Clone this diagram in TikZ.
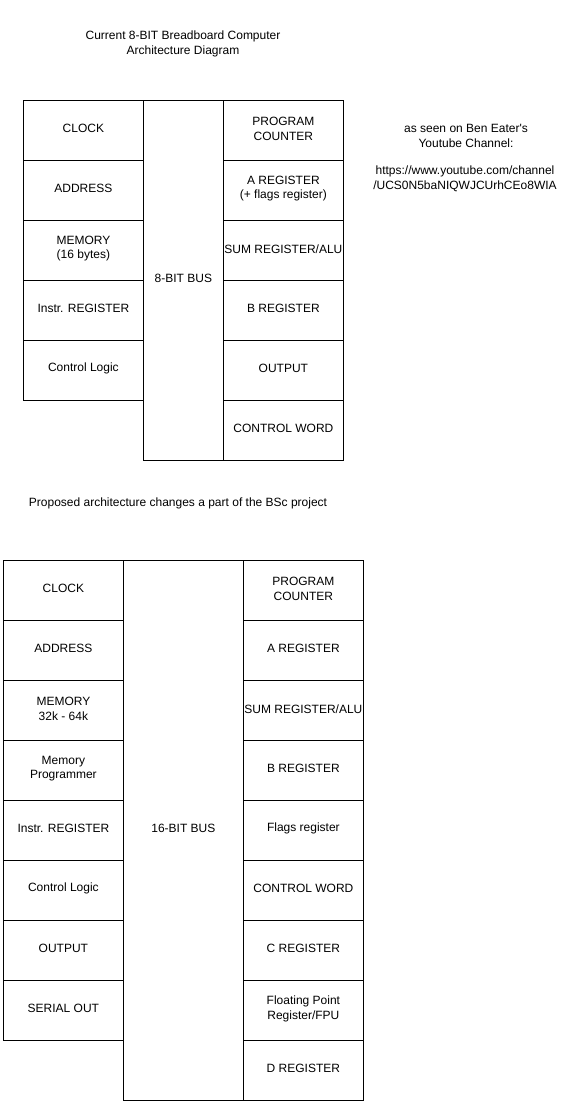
\documentclass[tikz,border=0pt]{standalone}
\usepackage{fontspec}
\setmainfont{Liberation Sans}[Ligatures=TeXOff]
\begin{document}
\begin{tikzpicture}[x=1pt,y=-1pt,
  lbl/.style={align=center,font=\fontsize{12}{14.5}\selectfont,inner sep=0pt,yshift=1.6pt},
  cell/.style={draw=black,line width=0.8pt,fill=white,minimum width=120pt,minimum height=60pt,inner sep=0pt,anchor=north west},
  bus/.style={cell,minimum width=80pt},
  txt/.style={align=center,font=\fontsize{12}{15}\selectfont,inner sep=0pt}]
\useasboundingbox (0,0) rectangle (561,1101);
\fill[white] (0,0) rectangle (561,1101);
% titles
\node[txt] (title) at (183,44) {Current 8-BIT Breadboard Computer\\Architecture Diagram};
\node[txt] (seen) at (466,135.5) {as seen on Ben Eater's\\Youtube Channel:};
\node[txt] (url) at (465,178.5) {https://www.youtube.com/channel\\/UCS0N5baNIQWJCUrhCEo8WIA};
\node[txt] (prop) at (178,503) {Proposed architecture changes a part of the BSc project};
% top diagram
\node[bus,minimum height=360pt,label={[lbl]center:8-BIT BUS}] (bus8) at (143,100) {};
\node[cell,label={[lbl]center:CLOCK}] (t1) at (23,100) {};
\node[cell,label={[lbl]center:ADDRESS}] (t2) at (23,160) {};
\node[cell,label={[lbl]center:MEMORY\\(16 bytes)}] (t3) at (23,220) {};
\node[cell,label={[lbl]center:Instr. REGISTER}] (t4) at (23,280) {};
\node[cell,label={[lbl]center:Control Logic}] (t5) at (23,340) {};
\node[cell,label={[lbl]center:PROGRAM\\COUNTER}] (r1) at (223,100) {};
\node[cell,label={[lbl]center:A REGISTER\\(+ flags register)}] (r2) at (223,160) {};
\node[cell,label={[lbl]center:SUM REGISTER/ALU}] (r3) at (223,220) {};
\node[cell,label={[lbl]center:B REGISTER}] (r4) at (223,280) {};
\node[cell,label={[lbl]center:OUTPUT}] (r5) at (223,340) {};
\node[cell,label={[lbl]center:CONTROL WORD}] (r6) at (223,400) {};
% bottom diagram
\node[cell,minimum height=540pt,label={[lbl]center:16-BIT BUS}] (bus16) at (123,560) {};
\node[cell,label={[lbl]center:CLOCK}] (b1) at (3,560) {};
\node[cell,label={[lbl]center:ADDRESS}] (b2) at (3,620) {};
\node[cell,label={[lbl]center:MEMORY\\32k - 64k}] (b3) at (3,680) {};
\node[cell,label={[lbl]center:Memory\\Programmer}] (b4) at (3,740) {};
\node[cell,label={[lbl]center:Instr. REGISTER}] (b5) at (3,800) {};
\node[cell,label={[lbl]center:Control Logic}] (b6) at (3,860) {};
\node[cell,label={[lbl]center:OUTPUT}] (b7) at (3,920) {};
\node[cell,label={[lbl]center:SERIAL OUT}] (b8) at (3,980) {};
\node[cell,label={[lbl]center:PROGRAM\\COUNTER}] (c1) at (243,560) {};
\node[cell,label={[lbl]center:A REGISTER}] (c2) at (243,620) {};
\node[cell,label={[lbl]center:SUM REGISTER/ALU}] (c3) at (243,680) {};
\node[cell,label={[lbl]center:B REGISTER}] (c4) at (243,740) {};
\node[cell,label={[lbl]center:Flags register}] (c5) at (243,800) {};
\node[cell,label={[lbl]center:CONTROL WORD}] (c6) at (243,860) {};
\node[cell,label={[lbl]center:C REGISTER}] (c7) at (243,920) {};
\node[cell,label={[lbl]center:Floating Point\\Register/FPU}] (c8) at (243,980) {};
\node[cell,label={[lbl]center:D REGISTER}] (c9) at (243,1040) {};
\end{tikzpicture}
\end{document}
